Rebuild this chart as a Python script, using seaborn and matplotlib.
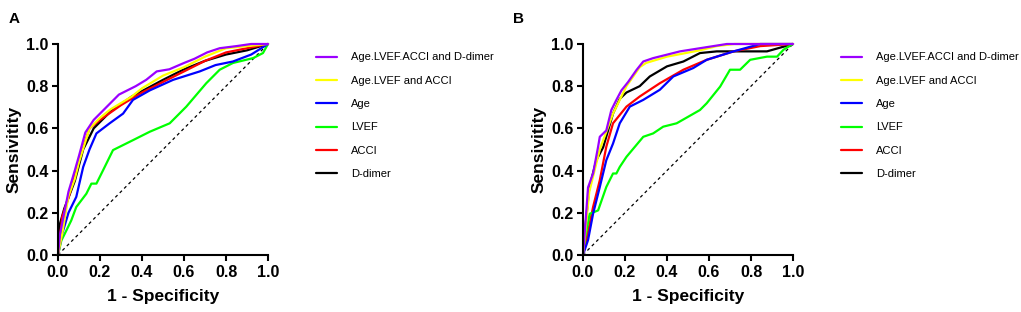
import numpy as np
import pandas as pd
import matplotlib
matplotlib.use("Agg")
import matplotlib.pyplot as plt
import seaborn as sns

# -----------------------------
# DATA
# -----------------------------

models = ["Age.LVEF.ACCI and D-dimer", "Age.LVEF and ACCI", "Age", "LVEF", "ACCI", "D-dimer"]
colors = ["#9B00FF", "#FFFF00", "#0000FF", "#00FF00", "#FF0000", "#000000"]

# panel A
a_combo4_x = [0, 0.01, 0.03, 0.05, 0.08, 0.1, 0.13, 0.17, 0.21, 0.25, 0.29, 0.33, 0.37, 0.42, 0.47, 0.53, 0.6, 0.65, 0.71, 0.77, 0.85, 0.92, 1.0]
a_combo4_y = [0, 0.1, 0.2, 0.3, 0.4, 0.47, 0.58, 0.64, 0.68, 0.72, 0.76, 0.78, 0.8, 0.83, 0.87, 0.88, 0.91, 0.93, 0.96, 0.98, 0.99, 1.0, 1.0]
a_combo3_x = [0, 0.02, 0.05, 0.08, 0.1, 0.15, 0.2, 0.25, 0.3, 0.35, 0.4, 0.5, 0.6, 0.7, 0.8, 0.9, 1.0]
a_combo3_y = [0, 0.1, 0.28, 0.36, 0.44, 0.6, 0.65, 0.69, 0.72, 0.75, 0.79, 0.85, 0.89, 0.94, 0.98, 0.99, 1.0]
a_age_x = [0, 0.02, 0.05, 0.087, 0.12, 0.15, 0.183, 0.246, 0.31, 0.357, 0.437, 0.548, 0.675, 0.75, 0.833, 0.92, 1.0]
a_age_y = [0, 0.1, 0.2, 0.275, 0.417, 0.5, 0.576, 0.624, 0.67, 0.735, 0.78, 0.83, 0.87, 0.9, 0.917, 0.95, 1.0]
a_lvef_x = [0, 0.016, 0.04, 0.063, 0.087, 0.135, 0.159, 0.183, 0.214, 0.262, 0.357, 0.437, 0.532, 0.611, 0.706, 0.77, 0.833, 0.929, 0.976, 1.0]
a_lvef_y = [0, 0.068, 0.116, 0.163, 0.227, 0.29, 0.338, 0.338, 0.4, 0.497, 0.544, 0.584, 0.624, 0.703, 0.814, 0.878, 0.91, 0.933, 0.957, 1.0]
a_acci_x = [0, 0.02, 0.05, 0.1, 0.15, 0.2, 0.3, 0.4, 0.5, 0.6, 0.7, 0.8, 0.9, 1.0]
a_acci_y = [0, 0.18, 0.27, 0.45, 0.6, 0.64, 0.71, 0.77, 0.82, 0.87, 0.92, 0.96, 0.98, 1.0]
a_ddimer_x = [0, 0.01, 0.03, 0.08, 0.12, 0.17, 0.25, 0.35, 0.5, 0.6, 0.7, 0.8, 0.9, 1.0]
a_ddimer_y = [0, 0.15, 0.22, 0.35, 0.5, 0.6, 0.68, 0.75, 0.83, 0.88, 0.92, 0.95, 0.97, 1.0]

# panel B
b_combo4_x = [0, 0.008, 0.024, 0.048, 0.072, 0.08, 0.111, 0.135, 0.159, 0.183, 0.215, 0.255, 0.287, 0.334, 0.462, 0.557, 0.685, 1.0]
b_combo4_y = [0, 0.1, 0.32, 0.386, 0.513, 0.56, 0.59, 0.687, 0.735, 0.78, 0.82, 0.877, 0.917, 0.933, 0.965, 0.98, 1.0, 1.0]
b_combo3_x = [0, 0.01, 0.03, 0.08, 0.143, 0.207, 0.27, 0.3, 0.4, 0.557, 0.637, 0.72, 1.0]
b_combo3_y = [0, 0.1, 0.3, 0.5, 0.67, 0.8, 0.89, 0.91, 0.94, 0.97, 0.99, 1.0, 1.0]
b_age_x = [0, 0.024, 0.048, 0.08, 0.111, 0.143, 0.175, 0.223, 0.287, 0.366, 0.43, 0.525, 0.589, 0.717, 0.844, 1.0]
b_age_y = [0, 0.07, 0.195, 0.322, 0.449, 0.528, 0.624, 0.703, 0.735, 0.783, 0.846, 0.886, 0.925, 0.965, 1.0, 1.0]
b_lvef_x = [0, 0.008, 0.032, 0.072, 0.111, 0.143, 0.159, 0.175, 0.207, 0.287, 0.334, 0.382, 0.446, 0.557, 0.589, 0.653, 0.7, 0.748, 0.796, 0.876, 0.924, 0.955, 1.0]
b_lvef_y = [0, 0.068, 0.195, 0.211, 0.322, 0.386, 0.386, 0.417, 0.465, 0.56, 0.576, 0.608, 0.624, 0.687, 0.719, 0.798, 0.878, 0.878, 0.925, 0.94, 0.94, 0.973, 1.0]
b_acci_x = [0, 0.016, 0.048, 0.08, 0.111, 0.143, 0.207, 0.27, 0.366, 0.478, 0.589, 0.717, 0.844, 1.0]
b_acci_y = [0, 0.07, 0.227, 0.354, 0.513, 0.624, 0.703, 0.751, 0.814, 0.878, 0.925, 0.965, 0.99, 1.0]
b_ddimer_x = [0, 0.008, 0.03, 0.064, 0.096, 0.143, 0.175, 0.207, 0.27, 0.318, 0.4, 0.478, 0.557, 0.637, 0.796, 0.876, 1.0]
b_ddimer_y = [0, 0.1, 0.32, 0.45, 0.51, 0.67, 0.74, 0.77, 0.8, 0.846, 0.894, 0.917, 0.957, 0.965, 0.965, 0.965, 1.0]

panels = {
    "A": [(a_combo4_x, a_combo4_y), (a_combo3_x, a_combo3_y), (a_age_x, a_age_y),
          (a_lvef_x, a_lvef_y), (a_acci_x, a_acci_y), (a_ddimer_x, a_ddimer_y)],
    "B": [(b_combo4_x, b_combo4_y), (b_combo3_x, b_combo3_y), (b_age_x, b_age_y),
          (b_lvef_x, b_lvef_y), (b_acci_x, b_acci_y), (b_ddimer_x, b_ddimer_y)],
}

# -----------------------------
# PLOT
# -----------------------------

sns.set_style("ticks")
plt.rcParams["font.family"] = ["Liberation Sans", "DejaVu Sans"]
plt.rcParams["text.color"] = "black"
plt.rcParams["axes.labelcolor"] = "black"
plt.rcParams["xtick.color"] = "black"
plt.rcParams["ytick.color"] = "black"
plt.rcParams["axes.edgecolor"] = "black"

fig = plt.figure(figsize=(10.21, 3.12), dpi=100)

axes_pos = {"A": [0.0568, 0.183, 0.2057, 0.676], "B": [0.571, 0.183, 0.2057, 0.676]}
label_x = {"A": 0.008, "B": 0.502}

ticks = np.arange(0, 1.01, 0.2)

for name, curves in panels.items():
    ax = fig.add_axes(axes_pos[name])

    # chance line drawn first so it sits under the curves
    ax.plot([0, 1], [0, 1], color="black", lw=0.9, ls=(0, (2.5, 2.5)))

    # draw in reverse so the combined model stays on top
    for i in reversed(range(len(models))):
        xs, ys = curves[i]
        df = pd.DataFrame({"x": xs, "y": ys})
        sns.lineplot(data=df, x="x", y="y", ax=ax, sort=False, estimator=None,
                     color=colors[i], lw=1.6, label=models[i], clip_on=False)

    ax.set_xlim(0, 1.0)
    ax.set_ylim(0, 1.0)
    ax.set_xticks(ticks)
    ax.set_yticks(ticks)
    ax.set_xticklabels([f"{v:.1f}" for v in ticks])
    ax.set_yticklabels([f"{v:.1f}" for v in ticks])
    ax.tick_params(width=1.5, length=4.5, pad=2.5, labelsize=11.5)
    for lab in ax.get_xticklabels() + ax.get_yticklabels():
        lab.set_fontweight("bold")
    for s in ["left", "bottom"]:
        ax.spines[s].set_linewidth(1.5)
    sns.despine(ax=ax)

    ax.set_xlabel("1 - Specificity", fontsize=12.5, fontweight="bold", labelpad=7)
    ax.set_ylabel("Sensivitity", fontsize=12.5, fontweight="bold", labelpad=3)

    # legend in original order
    handles, labels = ax.get_legend_handles_labels()
    order = [labels.index(m) for m in models]
    ax.legend([handles[j] for j in order], [labels[j] for j in order],
              loc="upper left", bbox_to_anchor=(1.23, 0.96), frameon=False,
              borderaxespad=0, borderpad=0, fontsize=8, handlelength=1.9,
              handletextpad=1.2, labelspacing=1.2)

    fig.text(label_x[name], 0.925, name, fontsize=11, fontweight="bold")

fig.savefig("out.png", dpi=100)
